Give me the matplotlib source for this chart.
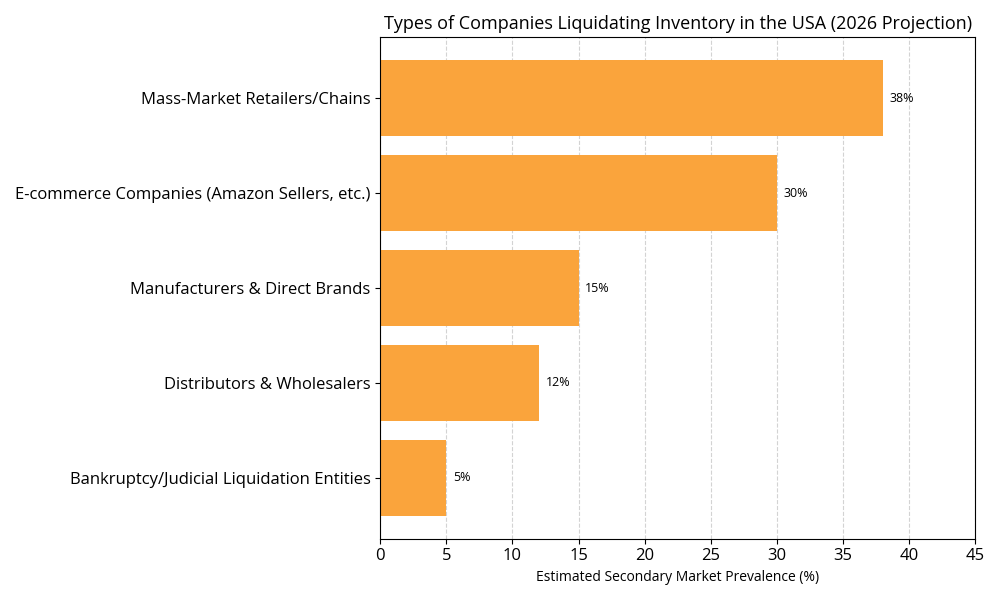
import matplotlib
matplotlib.use('Agg')
import matplotlib.pyplot as plt

# --- data ---
categories = [
    "Mass-Market Retailers/Chains",
    "E-commerce Companies (Amazon Sellers, etc.)",
    "Manufacturers & Direct Brands",
    "Distributors & Wholesalers",
    "Bankruptcy/Judicial Liquidation Entities",
]
prevalence = [38, 30, 15, 12, 5]

plt.rcParams['font.family'] = ['Open Sans', 'DejaVu Sans']

fig, ax = plt.subplots(figsize=(10, 6), dpi=100)
ax.set_axisbelow(True)
ax.grid(axis='x', linestyle='--', color='#d3d3d3', linewidth=0.8)

bars = ax.barh(categories, prevalence, color='#FAA43C', height=0.8)
ax.invert_yaxis()

for bar, v in zip(bars, prevalence):
    ax.text(bar.get_width() + 0.5, bar.get_y() + bar.get_height() / 2,
            f"{v}%", va='center', ha='left', fontsize=9)

ax.set_xlim(0, 45)
ax.set_xticks(range(0, 46, 5))
ax.tick_params(axis='both', labelsize=12)
ax.set_xlabel("Estimated Secondary Market Prevalence (%)", fontsize=10)
ax.set_title("Types of Companies Liquidating Inventory in the USA (2026 Projection)", fontsize=13)

plt.tight_layout()
plt.savefig('out.png', dpi=100)
